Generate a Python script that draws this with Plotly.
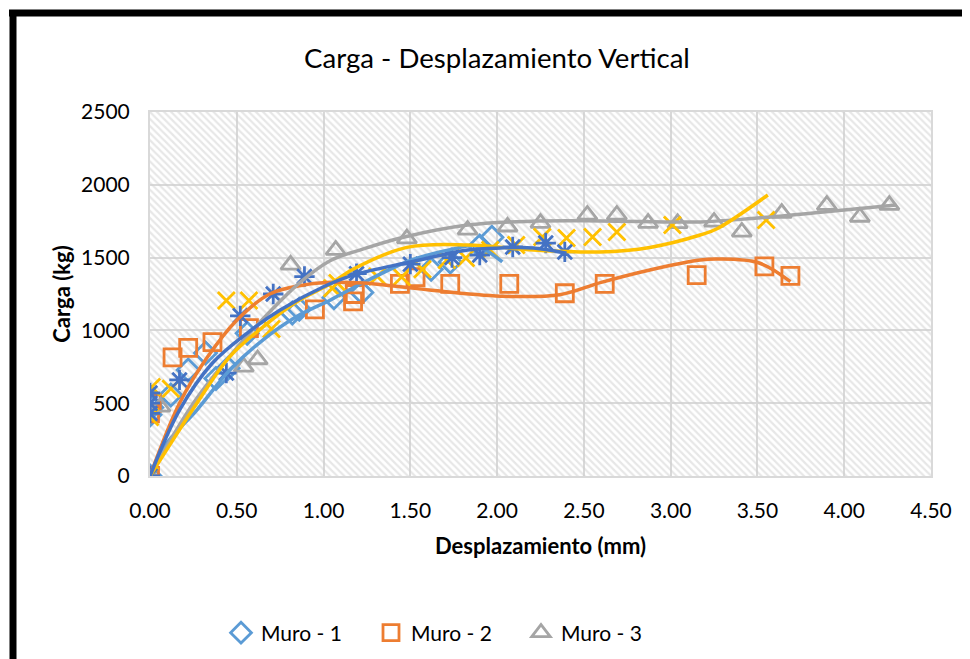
import plotly.graph_objects as go

# ---------------- data ----------------
X_RANGE = [0, 4.5]
Y_RANGE = [0, 2500]

m1_x = [0.00, 0.00, 0.01, 0.02, 0.12, 0.22, 0.32, 0.38, 0.45, 0.56, 0.82, 0.86, 1.06, 1.22, 1.62, 1.73, 1.90, 1.97]
m1_y = [0, 420, 470, 520, 556, 728, 845, 670, 740, 980, 1120, 1145, 1225, 1260, 1420, 1470, 1580, 1640]
m1_tx = [0, 0.08, 0.27, 0.46, 0.65, 0.84, 1.04, 1.20, 1.50, 1.75, 1.88, 2.03]
m1_ty = [0, 200, 453, 728, 934, 1092, 1209, 1310, 1480, 1560, 1580, 1470]

m2_x = [0.00, 0.00, 0.01, 0.13, 0.22, 0.36, 0.57, 0.95, 1.17, 1.18, 1.44, 1.53, 1.73, 2.07, 2.39, 2.62, 3.15, 3.54, 3.69]
m2_y = [0, 430, 500, 815, 880, 920, 1015, 1145, 1200, 1250, 1320, 1365, 1320, 1320, 1255, 1320, 1380, 1440, 1375]
m2_tx = [0, 0.17, 0.33, 0.50, 0.69, 0.88, 1.04, 1.23, 1.44, 1.61, 2.02, 2.36, 2.60, 2.88, 3.17, 3.27, 3.51, 3.69]
m2_ty = [0, 500, 815, 1070, 1250, 1310, 1330, 1325, 1300, 1277, 1235, 1245, 1330, 1415, 1483, 1490, 1463, 1335]

m3_x = [0.00, 0.06, 0.54, 0.62, 0.81, 1.07, 1.48, 1.83, 2.06, 2.25, 2.52, 2.69, 2.87, 3.04, 3.25, 3.41, 3.64, 3.90, 4.09, 4.26]
m3_y = [0, 475, 750, 800, 1450, 1552, 1630, 1690, 1712, 1737, 1793, 1793, 1737, 1735, 1745, 1676, 1806, 1861, 1779, 1861]
m3_tx = [0, 0.25, 0.50, 0.70, 0.86, 1.04, 1.23, 1.46, 1.83, 2.20, 2.60, 3.17, 3.50, 3.88, 4.30]
m3_ty = [0, 500, 880, 1140, 1325, 1480, 1560, 1640, 1724, 1750, 1752, 1745, 1772, 1813, 1861]

m4_x = [0.00, 0.00, 0.01, 0.12, 0.44, 0.57, 0.70, 1.05, 1.08, 1.31, 1.45, 1.57, 1.71, 1.82, 1.96, 2.11, 2.26, 2.40, 2.55, 2.69, 3.01, 3.55]
m4_y = [0, 405, 612, 600, 1205, 1205, 1010, 1290, 1325, 1370, 1367, 1420, 1483, 1497, 1552, 1587, 1642, 1635, 1642, 1676, 1724, 1758]
m4_tx = [0, 0.27, 0.46, 0.65, 0.85, 1.04, 1.17, 1.48, 1.83, 2.21, 2.59, 2.88, 3.17, 3.27, 3.56]
m4_ty = [0, 500, 820, 1023, 1200, 1320, 1420, 1570, 1587, 1552, 1539, 1570, 1655, 1700, 1930]

m5_x = [0.00, 0.00, 0.00, 0.00, 0.17, 0.44, 0.52, 0.71, 0.89, 1.19, 1.50, 1.74, 1.90, 2.09, 2.28, 2.39]
m5_y = [0, 430, 500, 570, 660, 707, 1100, 1250, 1370, 1390, 1455, 1500, 1518, 1573, 1600, 1539]
m5_tx = [0, 0.17, 0.36, 0.56, 0.75, 1.00, 1.17, 1.50, 1.83, 2.02, 2.21, 2.40]
m5_ty = [0, 453, 776, 982, 1140, 1300, 1380, 1470, 1552, 1566, 1566, 1530]

series = [
    ("Muro - 1", m1_x, m1_y, m1_tx, m1_ty, "#5B9BD5", "diamond-open", True),
    ("Muro - 2", m2_x, m2_y, m2_tx, m2_ty, "#ED7D31", "square-open", True),
    ("Muro - 3", m3_x, m3_y, m3_tx, m3_ty, "#A5A5A5", "triangle-up-open", True),
    ("Muro - 4", m4_x, m4_y, m4_tx, m4_ty, "#FFC000", "x-thin-open", False),
    ("Muro - 5", m5_x, m5_y, m5_tx, m5_ty, "#4472C4", "asterisk-open", False),
]

FONT = "Lato, Open Sans, sans-serif"

fig = go.Figure()

# hatched plot-area background
fig.add_trace(go.Scatter(
    x=[X_RANGE[0], X_RANGE[1], X_RANGE[1], X_RANGE[0], X_RANGE[0]],
    y=[Y_RANGE[0], Y_RANGE[0], Y_RANGE[1], Y_RANGE[1], Y_RANGE[0]],
    mode="lines", line=dict(width=0), fill="toself", fillcolor="rgba(0,0,0,0)",
    fillpattern=dict(shape="\\", fgcolor="#cfcfcf", bgcolor="rgba(255,255,255,0)", size=5, solidity=0.45),
    hoverinfo="skip", showlegend=False))

for name, x, y, tx, ty, col, sym, leg in series:
    fig.add_trace(go.Scatter(
        x=x, y=y, mode="markers", name=name, showlegend=leg,
        marker=dict(symbol=sym, size=17, color=col, line=dict(color=col, width=2.8))))

for name, x, y, tx, ty, col, sym, leg in series:
    fig.add_trace(go.Scatter(
        x=tx, y=ty, mode="lines", line=dict(color=col, width=3.5, shape="spline", smoothing=1.0),
        showlegend=False, hoverinfo="skip"))

# page body has an 8px margin; work in reference pixel coordinates and shift
OFF = 8
W, H = 970 - OFF, 659 - OFF
PL, PR, PT, PB = 150, 931, 112, 476          # plot area in reference pixels
L, T = PL - OFF, PT - OFF
R, B = W - (PR - OFF), H - (PB - OFF)
pw, ph = PR - PL, PB - PT

def px_x(p):
    return (p - PL) / pw

def px_y(p):
    return (PB - p) / ph

fig.update_layout(
    width=W, height=H,
    margin=dict(l=L, r=R, t=T, b=B, autoexpand=False),
    paper_bgcolor="white", plot_bgcolor="white",
    font=dict(family=FONT, size=21, color="#000000"),
    title=dict(text="Carga - Desplazamiento Vertical", xref="container", x=(497 - OFF) / W,
               xanchor="center", yref="container", y=1 - (58 - OFF) / H, yanchor="middle",
               font=dict(size=27.6, family=FONT)),
    xaxis=dict(range=X_RANGE, dtick=0.5, tick0=0, tickformat=".2f",
               showgrid=True, gridcolor="#d9d9d9", gridwidth=2, zeroline=False,
               showline=True, mirror=True, linecolor="#d9d9d9", linewidth=2,
               ticks="", ticklabelstandoff=15, tickfont=dict(size=21),
               title=dict(text="<b>Desplazamiento (mm)</b>", standoff=17, font=dict(size=22))),
    yaxis=dict(range=Y_RANGE, dtick=500, tick0=0,
               showgrid=True, gridcolor="#d9d9d9", gridwidth=2, zeroline=False,
               showline=True, mirror=True, linecolor="#d9d9d9", linewidth=2,
               ticks="", ticklabelstandoff=14, tickfont=dict(size=21),
               title=dict(text="<b>Carga (kg)</b>", standoff=4, font=dict(size=22))),
    legend=dict(orientation="h", xref="container", x=(221 - OFF) / W, xanchor="left",
                yref="container", y=(H - (633 - OFF)) / H, yanchor="middle",
                font=dict(size=21), itemwidth=30, entrywidth=105, entrywidthmode="pixels",
                bgcolor="rgba(0,0,0,0)"),
    shapes=[
        dict(type="line", xref="paper", yref="paper", x0=px_x(9), x1=px_x(980), y0=px_y(13), y1=px_y(13),
             line=dict(color="black", width=7)),
        dict(type="line", xref="paper", yref="paper", x0=px_x(13), x1=px_x(13), y0=px_y(10), y1=px_y(670),
             line=dict(color="black", width=7)),
    ],
)

fig.write_html("out.html")
